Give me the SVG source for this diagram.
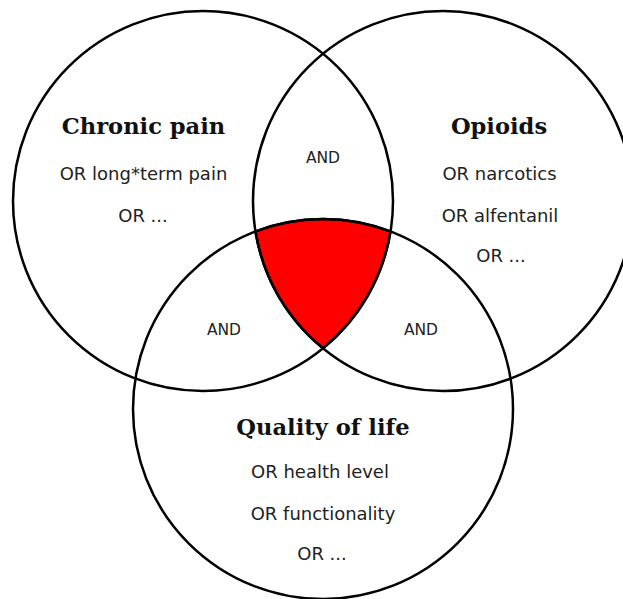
<svg xmlns="http://www.w3.org/2000/svg" width="623" height="599" viewBox="0 0 623 599">
<style>
.c{fill:none;stroke:#000;stroke-width:2.5}
.t{font-family:"DejaVu Serif",serif;font-weight:bold;font-size:22.6px;fill:#111;text-anchor:middle}
.s{font-family:"DejaVu Sans",sans-serif;font-size:18px;fill:#222;text-anchor:middle}
.a{font-family:"DejaVu Sans",sans-serif;font-size:15.5px;fill:#222;text-anchor:middle}
</style>
<rect width="623" height="599" fill="#fff"/>
<g id="intersection">
<path d="M255.45,231.42 A190,190 0 0 1 390.55,231.42 A190,190 0 0 1 323,348.3 A190,190 0 0 1 255.45,231.42 Z" fill="#ff0000" stroke="#000" stroke-width="2.5"/>
</g>
<g id="chronic-pain">
<circle class="c" cx="203" cy="201" r="190"/>
<text class="t" x="143.5" y="134">Chronic pain</text>
<text class="s" x="143.5" y="180">OR long*term pain</text>
<text class="s" x="143" y="222">OR ...</text>
</g>
<g id="opioids">
<circle class="c" cx="443" cy="201" r="190"/>
<text class="t" x="499" y="134">Opioids</text>
<text class="s" x="499.5" y="180">OR narcotics</text>
<text class="s" x="500" y="222">OR alfentanil</text>
<text class="s" x="501" y="262">OR ...</text>
</g>
<g id="quality-of-life">
<circle class="c" cx="323" cy="409" r="190"/>
<text class="t" x="323" y="435">Quality of life</text>
<text class="s" x="320" y="478">OR health level</text>
<text class="s" x="323" y="520">OR functionality</text>
<text class="s" x="322" y="560">OR ...</text>
</g>
<g id="connectors">
<text class="a" x="323" y="163">AND</text>
<text class="a" x="224" y="335">AND</text>
<text class="a" x="421" y="335">AND</text>
</g>
</svg>
